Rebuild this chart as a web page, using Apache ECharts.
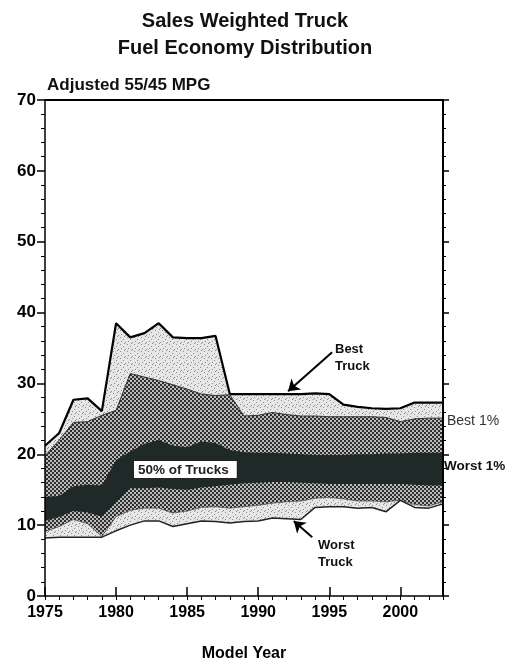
<!DOCTYPE html>
<html><head><meta charset="utf-8">
<script src="https://cdn.jsdelivr.net/npm/echarts@6/dist/echarts.min.js"></script>
<style>html,body{margin:0;padding:0;background:#fff}#c{width:512px;height:660px}</style>
</head><body><div id="c"></div>
<script>
const years = [1975,1976,1977,1978,1979,1980,1981,1982,1983,1984,1985,1986,1987,1988,1989,1990,1991,1992,1993,1994,1995,1996,1997,1998,1999,2000,2001,2002,2003];
const bestTruck = [21.2,23.0,27.7,27.9,26.1,38.5,36.5,37.1,38.5,36.5,36.4,36.4,36.7,28.5,28.5,28.5,28.5,28.5,28.5,28.6,28.5,27.0,26.7,26.5,26.4,26.5,27.3,27.3,27.3];
const best1pct = [19.8,22.0,24.5,24.6,25.5,26.2,31.4,30.9,30.4,29.8,29.2,28.5,28.3,28.4,25.4,25.5,25.9,25.6,25.4,25.4,25.3,25.3,25.3,25.3,25.2,24.6,25.0,25.1,25.1];
const upper50 = [14.0,14.1,15.5,15.7,15.6,19.2,20.4,21.5,22.0,21.2,21.0,21.8,21.6,20.6,20.3,20.2,20.2,20.1,20.0,19.9,19.9,19.9,20.0,20.0,20.1,20.1,20.2,20.2,20.2];
const lower50 = [10.6,11.2,12.0,11.8,11.2,13.2,15.2,15.2,15.3,15.1,15.0,15.3,15.5,15.7,15.9,16.0,16.1,16.1,16.0,15.9,15.8,15.8,15.8,15.8,15.8,15.8,15.7,15.6,15.6];
const worst1pct = [9.1,9.8,10.8,10.2,8.4,11.2,12.1,12.4,12.4,11.7,12.0,12.5,12.6,12.4,12.6,12.8,13.1,13.3,13.4,13.8,13.9,13.7,13.4,13.4,13.3,13.5,12.9,12.7,13.3];
const worstTruck = [8.2,8.3,8.3,8.3,8.3,9.2,10.0,10.6,10.6,9.8,10.2,10.6,10.5,10.3,10.5,10.6,11.0,10.9,10.8,12.5,12.6,12.6,12.4,12.5,11.9,13.5,12.5,12.4,13.0];
const xTickLabels = [1975,1980,1985,1990,1995,2000];
const yTickLabels = [0,10,20,30,40,50,60,70];

const FONT = 'Liberation Sans, Arial, sans-serif';

function checker(){
  const c=document.createElement('canvas'); c.width=4; c.height=4;
  const g=c.getContext('2d');
  g.fillStyle='#bababa'; g.fillRect(0,0,4,4);
  g.fillStyle='#2e2e2e'; g.fillRect(0,0,2,2); g.fillRect(2,2,2,2);
  return c;
}
function stipple(){
  const c=document.createElement('canvas'); c.width=7; c.height=7;
  const g=c.getContext('2d');
  g.fillStyle='#e6e6e6'; g.fillRect(0,0,7,7);
  g.fillStyle='#8c8c8c';
  [[1,1],[4,3],[2,5],[6,6],[5,0]].forEach(p=>g.fillRect(p[0],p[1],1,1));
  return c;
}
const chkPat = {image: checker(), repeat: 'repeat'};
const stpPat = {image: stipple(), repeat: 'repeat'};

const raw = arr => years.map((y,i)=>[y, arr[i]]);

const chart = echarts.init(document.getElementById('c'), null, {renderer:'canvas'});
const xMin = xTickLabels[0], xMax = years[years.length-1];
const yMin = yTickLabels[0], yMax = yTickLabels[yTickLabels.length-1];

function layer(name, arr, fill, line, z, extra){
  return Object.assign({name:name, type:'line', symbol:'none', data:raw(arr), z:z,
    lineStyle: line, areaStyle: {color:fill, opacity:1, origin:'start'}}, extra||{});
}

const option = {
  animation:false,
  backgroundColor:'#fff',
  textStyle:{fontFamily:FONT},
  grid:{left:45, right:69, top:100, bottom:64, outerBoundsMode:'none', containLabel:false},
  xAxis:[
    {type:'value', position:'bottom', min:xMin, max:xMax, interval:5, z:5,
     axisLine:{lineStyle:{color:'#000', width:1.5}},
     axisTick:{inside:true, length:9, lineStyle:{color:'#000', width:1.5}},
     axisLabel:{color:'#000', fontWeight:'bold', fontSize:16, fontFamily:FONT, margin:9, showMaxLabel:false, formatter:v=>String(v)},
     splitLine:{show:false},
     name:'Model Year', nameLocation:'middle', nameGap:50,
     nameTextStyle:{color:'#000', fontWeight:'bold', fontSize:16, fontFamily:FONT}},
    {type:'value', position:'bottom', min:xMin, max:xMax, interval:1, z:5,
     axisLine:{show:false}, axisTick:{length:4, lineStyle:{color:'#000', width:1}},
     axisLabel:{show:false}, splitLine:{show:false}},
    {type:'value', position:'top', min:xMin, max:xMax, z:5,
     axisLine:{lineStyle:{color:'#000', width:2}}, axisTick:{show:false},
     axisLabel:{show:false}, splitLine:{show:false}}
  ],
  yAxis:[
    {type:'value', position:'left', min:yMin, max:yMax, interval:10, z:5,
     axisLine:{show:true, lineStyle:{color:'#000', width:1.5}},
     axisTick:{show:true, length:8, lineStyle:{color:'#000', width:1.5}},
     minorTick:{show:true, splitNumber:5, length:4, lineStyle:{color:'#000', width:1}},
     axisLabel:{color:'#000', fontWeight:'bold', fontSize:17, fontFamily:FONT, margin:9},
     splitLine:{show:false}},
    {type:'value', position:'right', min:yMin, max:yMax, interval:10, z:5,
     axisLine:{show:true, lineStyle:{color:'#000', width:2}},
     axisTick:{show:true, length:6, lineStyle:{color:'#000', width:1.5}},
     minorTick:{show:true, splitNumber:5, length:3, lineStyle:{color:'#000', width:1}},
     axisLabel:{show:false}, splitLine:{show:false}}
  ],
  series:[
    layer('Best Truck', bestTruck, stpPat, {color:'#000', width:2.2}, 2),
    layer('Best 1%', best1pct, chkPat, {color:'#333', width:1}, 2.1),
    layer('Upper 50%', upper50, '#1f2927', {width:0, opacity:0}, 2.2),
    layer('Lower 50%', lower50, chkPat, {width:0, opacity:0}, 2.3),
    layer('Worst 1%', worst1pct, stpPat, {color:'#555', width:0.8}, 2.4),
    layer('Worst Truck', worstTruck, '#ffffff', {color:'#222', width:1.5}, 2.5, {
      markLine:{silent:true, symbol:['none','arrow'], symbolSize:11,
        label:{show:false},
        lineStyle:{color:'#000', width:2, type:'solid'},
        data:[
          [{coord:[1995.2,34.4]},{coord:[1992.1,28.9]}],
          [{coord:[1993.8,8.3]},{coord:[1992.5,10.6]}]
        ]}
    })
  ],
  graphic:[
    {type:'text', x:245, y:8, z:10,
     style:{text:'Sales Weighted Truck\nFuel Economy Distribution', font:'bold 20px '+FONT, fill:'#111', align:'center', verticalAlign:'top', lineHeight:27}},
    {type:'text', left:47, top:77, z:10,
     style:{text:'Adjusted 55/45 MPG', font:'bold 17px '+FONT, fill:'#111'}},
    {type:'text', left:335, top:341, z:10,
     style:{text:'Best\nTruck', font:'bold 13px '+FONT, fill:'#111', lineHeight:17}},
    {type:'text', left:447, top:414, z:10,
     style:{text:'Best 1%', font:'14px '+FONT, fill:'#333'}},
    {type:'text', left:444, top:459, z:10,
     style:{text:'Worst 1%', font:'bold 13.5px '+FONT, fill:'#111'}},
    {type:'text', left:318, top:537, z:10,
     style:{text:'Worst\nTruck', font:'bold 13px '+FONT, fill:'#111', lineHeight:17}},
    {type:'text', left:133, top:460, z:10,
     style:{text:'50% of Trucks', font:'bold 13.5px '+FONT, fill:'#222',
       backgroundColor:'#fff', borderColor:'#222', borderWidth:1, padding:[2,8,1,4]}}
  ]
};
chart.setOption(option);
</script>
</body></html>
